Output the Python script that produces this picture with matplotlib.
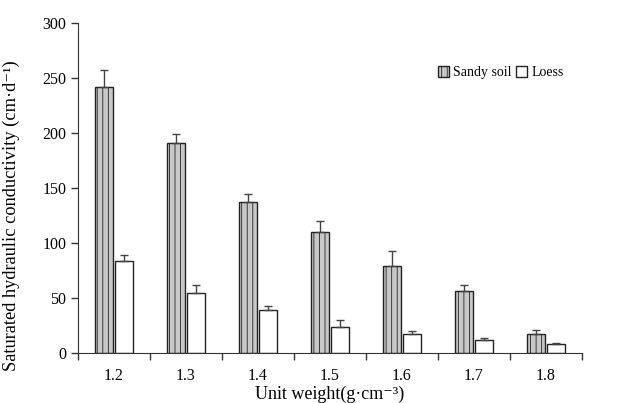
import numpy as np
import matplotlib
matplotlib.use("Agg")
import matplotlib.pyplot as plt

plt.rcParams['font.family'] = ['Liberation Serif', 'DejaVu Serif']
plt.rcParams['hatch.linewidth'] = 0.6
plt.rcParams['hatch.color'] = '#555555'

cats = ["1.2", "1.3", "1.4", "1.5", "1.6", "1.7", "1.8"]
sandy = [242, 191, 137, 110, 79, 56, 17]
sandy_err = [15, 8, 8, 10, 14, 6, 4]
loess = [84, 55, 39, 24, 17, 11.5, 8]
loess_err = [5, 6.5, 4, 6, 3, 2, 1.5]

fig = plt.figure(figsize=(6.38, 4.03), dpi=100)
ax = fig.add_axes([78/638, 50/403, 504/638, 330/403])
x = np.arange(len(cats)) + 0.5
w = 0.25
ax.bar(x - 0.14, sandy, w, yerr=[np.zeros(7), sandy_err], color='#c8c8c8', edgecolor='#222222',
       linewidth=1.0, hatch='|||', label='Sandy soil',
       error_kw=dict(ecolor='#444444', elinewidth=1.0, capsize=3, capthick=1.0))
ax.bar(x + 0.145, loess, w, yerr=[np.zeros(7), loess_err], color='white', edgecolor='#222222',
       linewidth=1.0, label='Loess',
       error_kw=dict(ecolor='#444444', elinewidth=1.0, capsize=3, capthick=1.0))
ax.set_xlim(0, 7)
ax.set_ylim(0, 300)
ax.set_yticks(range(0, 301, 50))
ax.set_xticks(np.arange(0, 8))
ax.set_xticklabels([])
ax.set_xticks(x, minor=True)
ax.set_xticklabels(cats, minor=True)
ax.tick_params(axis='x', which='minor', length=0, pad=11, labelsize=11.5)
ax.tick_params(axis='x', which='major', length=5, width=1, color='#333333')
ax.tick_params(axis='y', length=5, width=1, color='#333333', labelsize=11.5)
for s in ['top', 'right']:
    ax.spines[s].set_visible(False)
for s in ['left', 'bottom']:
    ax.spines[s].set_color('#333333')
ax.set_xlabel("Unit weight(g·cm⁻³)", fontsize=13, labelpad=1)
ax.set_ylabel("Saturated hydraulic conductivity (cm·d⁻¹)", fontsize=13.2)
ax.yaxis.set_label_coords(-0.115, 0.415)
ax.legend(loc='center left', bbox_to_anchor=(0.714, 0.85), ncol=2, frameon=False, fontsize=10,
          handlelength=0.8, handleheight=0.8, handletextpad=0.3, columnspacing=0.3,
          borderpad=0, borderaxespad=0)
fig.savefig("out.png", dpi=100)
